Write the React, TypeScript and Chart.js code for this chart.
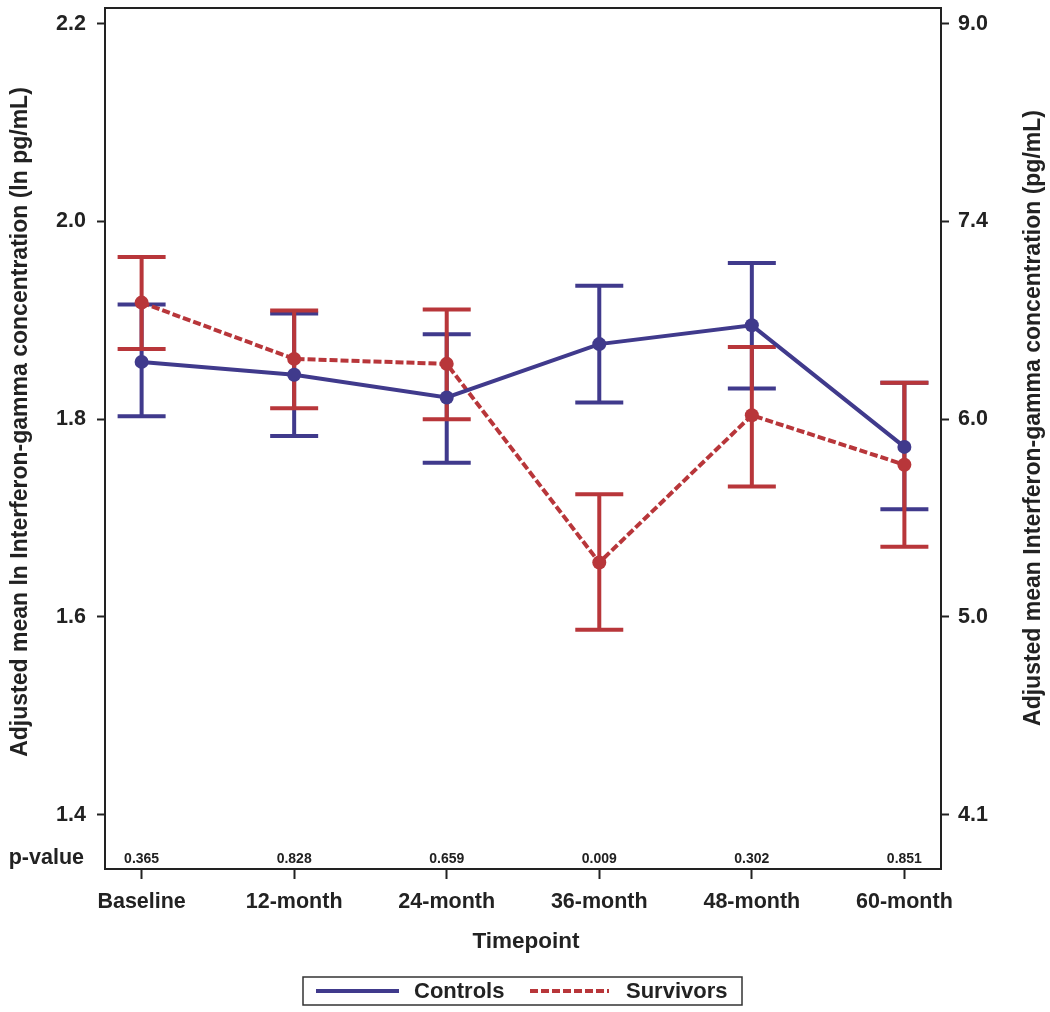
import React, { useEffect, useRef } from "react";
import { Chart, registerables } from "chart.js";

Chart.register(...registerables);

const categories = ["Baseline", "12-month", "24-month", "36-month", "48-month", "60-month"];
const controlsMean = [1.858, 1.845, 1.822, 1.876, 1.895, 1.772];
const controlsLower = [1.803, 1.783, 1.756, 1.817, 1.831, 1.709];
const controlsUpper = [1.916, 1.907, 1.886, 1.935, 1.958, 1.837];
const survivorsMean = [1.918, 1.861, 1.856, 1.655, 1.804, 1.754];
const survivorsLower = [1.871, 1.811, 1.8, 1.587, 1.732, 1.671];
const survivorsUpper = [1.964, 1.91, 1.911, 1.724, 1.873, 1.837];
const pValues = ["0.365", "0.828", "0.659", "0.009", "0.302", "0.851"];
const leftTicks = [1.4, 1.6, 1.8, 2.0, 2.2];
const rightTickLabels = ["4.1", "5.0", "6.0", "7.4", "9.0"];

const BLUE = "#403a8c";
const RED = "#b8363a";
const INK = "#222222";
const FONT = "'Liberation Sans', Arial, sans-serif";

const errorBarPlugin = {
  id: "errorBars",
  beforeDatasetsDraw(chart: any) {
    const { ctx } = chart;
    const xs = chart.scales.x;
    const ys = chart.scales.y;
    ctx.save();
    chart.data.datasets.forEach((ds: any) => {
      ctx.strokeStyle = ds.borderColor;
      ctx.lineWidth = 4;
      ctx.setLineDash([]);
      ds.lower.forEach((lo: number, i: number) => {
        const x = xs.getPixelForValue(i);
        const yl = ys.getPixelForValue(lo);
        const yu = ys.getPixelForValue(ds.upper[i]);
        ctx.beginPath();
        ctx.moveTo(x, yl);
        ctx.lineTo(x, yu);
        ctx.moveTo(x - 24, yl);
        ctx.lineTo(x + 24, yl);
        ctx.moveTo(x - 24, yu);
        ctx.lineTo(x + 24, yu);
        ctx.stroke();
      });
    });
    ctx.restore();
  },
};

const decorPlugin = {
  id: "decor",
  afterDraw(chart: any) {
    const { ctx, chartArea } = chart;
    const xs = chart.scales.x;
    ctx.save();
    // frame
    ctx.strokeStyle = INK;
    ctx.lineWidth = 2;
    ctx.setLineDash([]);
    ctx.strokeRect(chartArea.left, chartArea.top, chartArea.right - chartArea.left, chartArea.bottom - chartArea.top);

    ctx.fillStyle = INK;
    // p-values
    ctx.font = `bold 14px ${FONT}`;
    ctx.textAlign = "center";
    ctx.textBaseline = "alphabetic";
    pValues.forEach((p, i) => {
      ctx.fillText(p, xs.getPixelForValue(i), 863);
    });
    ctx.font = `bold 21.5px ${FONT}`;
    ctx.textAlign = "right";
    ctx.fillText("p-value", 84, 864);

    // x title
    ctx.font = `bold 22.5px ${FONT}`;
    ctx.textAlign = "center";
    ctx.fillText("Timepoint", (chartArea.left + chartArea.right) / 2 + 3, 948);

    // y titles
    ctx.font = `bold 23px ${FONT}`;
    ctx.save();
    ctx.translate(27, 422);
    ctx.rotate(-Math.PI / 2);
    ctx.fillText("Adjusted mean ln Interferon-gamma concentration (ln pg/mL)", 0, 0);
    ctx.restore();
    ctx.save();
    ctx.translate(1040, 418);
    ctx.rotate(-Math.PI / 2);
    ctx.fillText("Adjusted mean Interferon-gamma concentration (pg/mL)", 0, 0);
    ctx.restore();

    // legend
    const boxL = 303, boxR = 742, boxT = 977, boxB = 1005;
    ctx.strokeStyle = "#333";
    ctx.lineWidth = 1.5;
    ctx.strokeRect(boxL, boxT, boxR - boxL, boxB - boxT);
    const items = [
      { x0: 316, x1: 399, tx: 414 },
      { x0: 530, x1: 609, tx: 626 },
    ];
    ctx.font = `bold 22px ${FONT}`;
    ctx.textAlign = "left";
    chart.data.datasets.forEach((ds: any, k: number) => {
      const it = items[k];
      ctx.strokeStyle = ds.borderColor;
      ctx.lineWidth = 4;
      ctx.setLineDash(ds.borderDash || []);
      ctx.beginPath();
      ctx.moveTo(it.x0, 991);
      ctx.lineTo(it.x1, 991);
      ctx.stroke();
      ctx.setLineDash([]);
      ctx.fillStyle = INK;
      ctx.fillText(ds.label, it.tx, 998);
    });
    ctx.restore();
  },
};

const zeroPad = (s: any) => {
  s.paddingTop = 0;
  s.paddingBottom = 0;
  s.paddingLeft = 0;
  s.paddingRight = 0;
};

export default function App() {
  const ref = useRef<HTMLCanvasElement | null>(null);
  useEffect(() => {
    if (!ref.current) return;
    const tickFont = { family: FONT, size: 21.5, weight: "bold" as const };
    const chart = new Chart(ref.current, {
      type: "line",
      data: {
        datasets: [
          {
            label: "Controls",
            data: controlsMean.map((v, i) => ({ x: i, y: v })),
            lower: controlsLower,
            upper: controlsUpper,
            borderColor: BLUE,
            backgroundColor: BLUE,
            pointBackgroundColor: BLUE,
            pointBorderWidth: 0,
            pointRadius: 7,
            borderWidth: 4,
            tension: 0,
          } as any,
          {
            label: "Survivors",
            data: survivorsMean.map((v, i) => ({ x: i, y: v })),
            lower: survivorsLower,
            upper: survivorsUpper,
            borderColor: RED,
            backgroundColor: RED,
            pointBackgroundColor: RED,
            pointBorderWidth: 0,
            pointRadius: 7,
            borderWidth: 4,
            borderDash: [8, 3],
            tension: 0,
          } as any,
        ],
      },
      options: {
        animation: false,
        responsive: false,
        devicePixelRatio: 1,
        layout: { padding: { top: 8, left: 0, right: 0, bottom: 0 } },
        plugins: { legend: { display: false }, tooltip: { enabled: false } },
        scales: {
          x: {
            type: "linear",
            min: -0.24,
            max: 5.24,
            afterBuildTicks: (s: any) => {
              s.ticks = categories.map((_, i) => ({ value: i }));
            },
            afterFit: (s: any) => {
              s.height = 143;
              zeroPad(s);
            },
            ticks: {
              callback: (v: any) => categories[Math.round(Number(v))],
              font: tickFont,
              color: INK,
              padding: 10,
              maxRotation: 0,
              autoSkip: false,
            },
            grid: { drawOnChartArea: false, tickLength: 10, tickWidth: 2, tickColor: INK },
            border: { display: false },
          },
          y: {
            type: "linear",
            position: "left",
            min: 1.345,
            max: 2.216,
            afterBuildTicks: (s: any) => {
              s.ticks = leftTicks.map((v) => ({ value: v }));
            },
            afterFit: (s: any) => {
              s.width = 105;
              zeroPad(s);
            },
            ticks: {
              callback: (v: any) => Number(v).toFixed(1),
              font: tickFont,
              color: INK,
              padding: 11,
            },
            grid: { drawOnChartArea: false, tickLength: 8, tickWidth: 2, tickColor: INK },
            border: { display: false },
          },
          y2: {
            type: "linear",
            position: "right",
            min: 1.345,
            max: 2.216,
            afterBuildTicks: (s: any) => {
              s.ticks = leftTicks.map((v) => ({ value: v }));
            },
            afterFit: (s: any) => {
              s.width = 109;
              zeroPad(s);
            },
            ticks: {
              callback: (v: any) => rightTickLabels[leftTicks.findIndex((t) => Math.abs(t - Number(v)) < 1e-6)],
              font: tickFont,
              color: INK,
              padding: 9,
            },
            grid: { drawOnChartArea: false, tickLength: 8, tickWidth: 2, tickColor: INK },
            border: { display: false },
          },
        },
      },
      plugins: [errorBarPlugin, decorPlugin],
    });
    return () => chart.destroy();
  }, []);

  return (
    <div style={{ position: "fixed", left: 0, top: 0, width: 1050, height: 1012, background: "#fff" }}>
      <canvas ref={ref} width={1050} height={1012} style={{ width: 1050, height: 1012, display: "block" }} />
    </div>
  );
}
